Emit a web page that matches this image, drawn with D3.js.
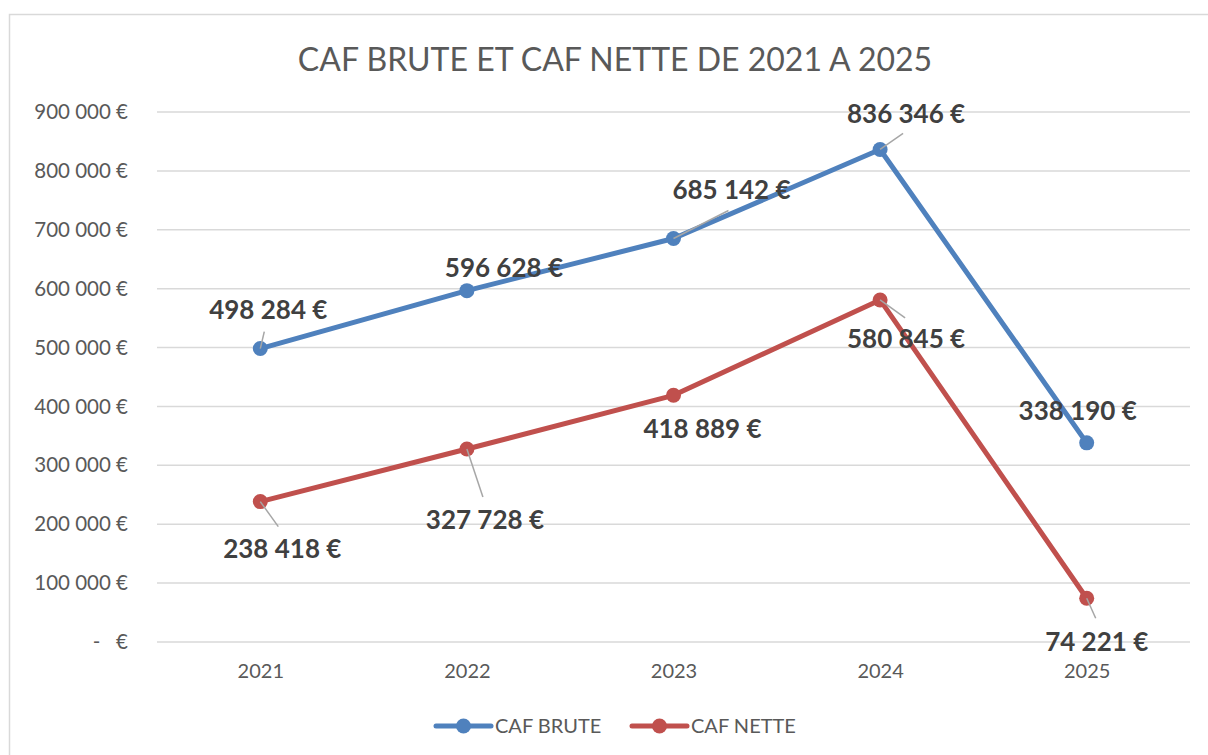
<!DOCTYPE html>
<html>
<head>
<meta charset="utf-8">
<script src="https://cdn.jsdelivr.net/npm/d3@7"></script>
<style>
  body { margin: 0; background: #fff; }
  svg { display: block; font-family: Lato, "Open Sans", sans-serif; }
</style>
</head>
<body>
<div id="chart"></div>
<script>
// data
var years = ["2021", "2022", "2023", "2024", "2025"];
var cafBrute = [498284, 596628, 685142, 836346, 338190];
var cafNette = [238418, 327728, 418889, 580845, 74221];
var yTicks = [0, 100000, 200000, 300000, 400000, 500000, 600000, 700000, 800000, 900000];
var seriesNames = ["CAF BRUTE", "CAF NETTE"];

// label placement (pixel offsets from the point: label centre, leader end or null)
var labelPos = [
    [[8, -39, 4, -17], [37, -23, null], [58, -49, 55, -28], [26, -36, 23, -16], [-9, -32, null]],
    [[22, 47, 18, 25], [18, 71, 16, 48], [29, 33, null], [26, 39, 25, 18], [10, 43, 9, 20]]
];

var W = 1208, H = 755;
var margin = {top: 112, right: 18, bottom: 113, left: 157};
var width = 1190 - margin.left;
var height = 642 - margin.top;

var svg = d3.select("#chart")
    .append("svg")
    .attr("width", W)
    .attr("height", H);

// chart frame (runs off the right and bottom of the picture)
svg.append("rect")
    .attr("x", 9.5).attr("y", 14.5)
    .attr("width", W + 50).attr("height", H + 50)
    .style("fill", "none")
    .style("stroke", "#d9d9d9")
    .style("stroke-width", 1.5);

var g = svg.append("g")
    .attr("transform", "translate(" + margin.left + "," + margin.top + ")");

var x = d3.scalePoint()
    .domain(years)
    .range([0, width])
    .padding(0.5);

var y = d3.scaleLinear()
    .domain([0, 900000])
    .range([height, 0]);

function fmtEuro(v) {
    if (v === 0) return "-   €";
    return d3.format(",")(v).replace(/,/g, " ") + " €";
}

// gridlines
g.selectAll(".grid")
    .data(yTicks)
    .enter()
    .append("line")
    .attr("x1", 0).attr("x2", width)
    .attr("y1", function(d) { return y(d); })
    .attr("y2", function(d) { return y(d); })
    .style("stroke", "#d9d9d9")
    .style("stroke-width", 1.5);

// y axis
var yAxis = g.append("g")
    .call(d3.axisLeft(y).tickValues(yTicks).tickSize(0).tickPadding(29).tickFormat(fmtEuro));
yAxis.select(".domain").remove();
yAxis.selectAll("text")
    .style("font-size", "20.5px")
    .style("fill", "#595959")
    .style("white-space", "pre")
    .style("font-family", "Lato, sans-serif");

// x axis
var xAxis = g.append("g")
    .attr("transform", "translate(0," + height + ")")
    .call(d3.axisBottom(x).tickSize(0).tickPadding(22));
xAxis.select(".domain").remove();
xAxis.selectAll("text")
    .style("font-size", "20px")
    .style("fill", "#595959")
    .style("font-family", "Lato, sans-serif");

// title
svg.append("text")
    .attr("x", 615)
    .attr("y", 71)
    .attr("text-anchor", "middle")
    .style("font-size", "32px")
    .style("fill", "#595959")
    .text("CAF BRUTE ET CAF NETTE DE 2021 A 2025");

var series = [
    {name: seriesNames[0], values: cafBrute, color: "#4f81bd"},
    {name: seriesNames[1], values: cafNette, color: "#c0504d"}
];

var line = d3.line()
    .x(function(d, i) { return x(years[i]); })
    .y(function(d) { return y(d); });

series.forEach(function(s, si) {
    g.append("path")
        .datum(s.values)
        .attr("d", line)
        .style("fill", "none")
        .style("stroke", s.color)
        .style("stroke-width", 5)
        .style("stroke-linejoin", "round");

    g.selectAll(".pt" + si)
        .data(s.values)
        .enter()
        .append("circle")
        .attr("cx", function(d, i) { return x(years[i]); })
        .attr("cy", function(d) { return y(d); })
        .attr("r", 7.5)
        .style("fill", s.color);

    s.values.forEach(function(v, i) {
        var px = x(years[i]), py = y(v);
        var p = labelPos[si][i];
        if (p[2] !== null) {
            g.append("line")
                .attr("x1", px).attr("y1", py)
                .attr("x2", px + p[2]).attr("y2", py + p[3])
                .style("stroke", "#a6a6a6")
                .style("stroke-width", 1.5);
        }
        g.append("text")
            .attr("x", px + p[0])
            .attr("y", py + p[1])
            .attr("text-anchor", "middle")
            .attr("dy", "0.36em")
            .style("font-size", "26px")
            .style("font-weight", "bold")
            .style("fill", "#404040")
            .text(fmtEuro(v));
    });
});

// legend
var legend = svg.append("g");
var legendX = [436, 632];
series.forEach(function(s, si) {
    var lx = legendX[si], ly = 726;
    legend.append("line")
        .attr("x1", lx).attr("x2", lx + 55)
        .attr("y1", ly).attr("y2", ly)
        .style("stroke", s.color)
        .style("stroke-width", 5)
        .style("stroke-linecap", "round");
    legend.append("circle")
        .attr("cx", lx + 27.5).attr("cy", ly)
        .attr("r", 7.5)
        .style("fill", s.color);
    legend.append("text")
        .attr("x", lx + 59)
        .attr("y", ly)
        .attr("dy", "0.36em")
        .style("font-size", "20px")
        .style("fill", "#595959")
        .text(s.name);
});
</script>
</body>
</html>
